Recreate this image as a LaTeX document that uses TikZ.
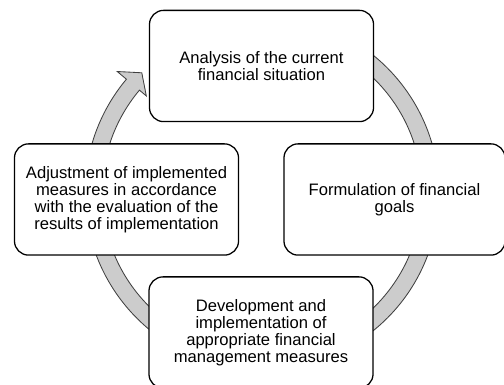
\documentclass[tikz,border=0pt]{standalone}
\usepackage{fontspec}
\setmainfont{Liberation Sans}
\usepackage{xcolor}
\definecolor{ringfill}{HTML}{CCCCCC}
\definecolor{ringline}{HTML}{3F3F3F}

\begin{document}
\begin{tikzpicture}[x=0.025cm, y=0.025cm,
	stage/.style={draw=black, line width=0.9pt, fill=white, rounded corners=10pt,
		minimum width=5.6cm, minimum height=2.78cm, align=center,
		font=\fontsize{11.8}{12}\selectfont, inner sep=2pt},
	ring/.style={fill=ringfill, draw=ringline, line width=0.6pt}]
	\useasboundingbox (0,0) rectangle (504,385);
	% circular arrow, its tail hidden under the top box
	\begin{scope}[shift={(262,192)}]
		\filldraw[ring] (125:177) arc[start angle=125, end angle=-220, radius=177]
			-- (140:189) -- (135:170) -- (140:151) -- (140:160)
			arc[start angle=-220, end angle=125, radius=160] -- cycle;
	\end{scope}
	\node[stage] (analysis) at (261.5,319) {Analysis of the current\\financial situation};
	\node[stage, minimum width=5.525cm] (goals) at (394.5,185.5) {Formulation of financial\\goals};
	\node[stage] (measures) at (261,52.5) {Development and\\implementation of\\appropriate financial\\management measures};
	\node[stage] (adjust) at (126.5,185.5) {Adjustment of implemented\\measures in accordance\\with the evaluation of the\\results of implementation};
\end{tikzpicture}
\end{document}
